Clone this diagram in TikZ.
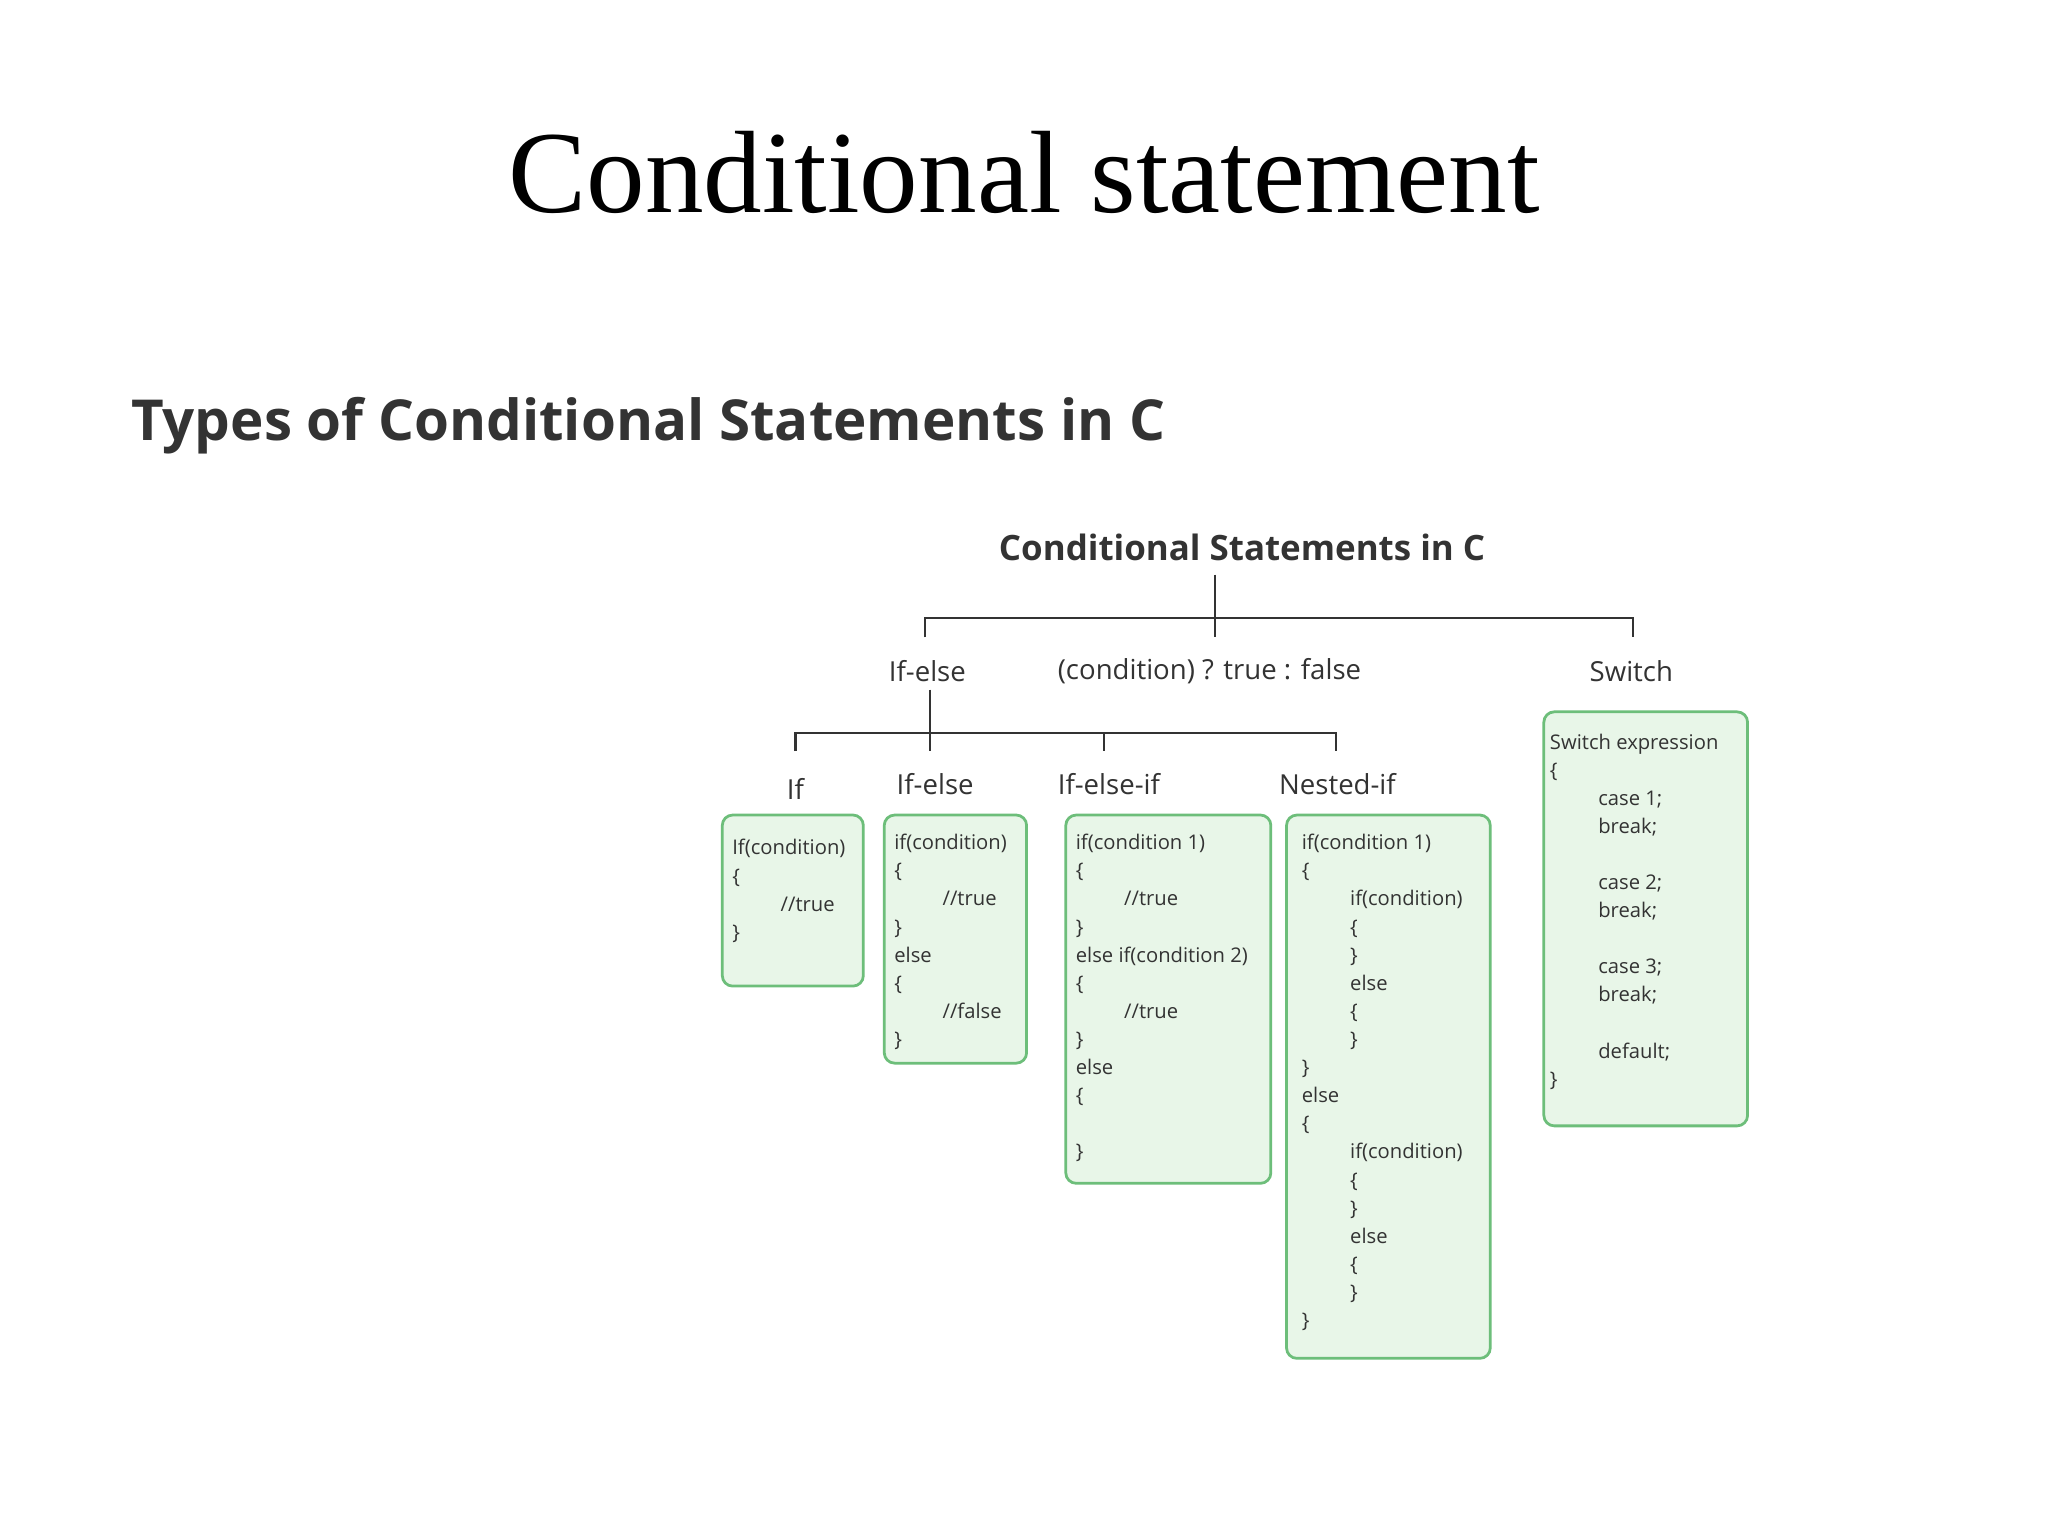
\documentclass[tikz,border=0pt]{standalone}
\usepackage{fontspec}
\setmainfont{Liberation Serif}
\newfontfamily\dsans{Open Sans}
\definecolor{bfill}{HTML}{E8F6E8}
\definecolor{bline}{HTML}{6DBE7A}
\definecolor{tgray}{HTML}{333333}
\begin{document}
\begin{tikzpicture}[x=0.01cm,y=-0.01cm,
  cbox/.style={draw=bline,fill=bfill,rounded corners=0.08cm,line width=0.6pt},
  code/.style={anchor=north west,inner sep=0,align=left,text=tgray,font=\dsans\fontsize{4.4}{6.12}\selectfont},
  lab/.style={text=tgray,font=\dsans\fontsize{6}{7}\selectfont},
  tree/.style={draw=tgray,line width=0.5pt}]
\useasboundingbox[fill=white] (0,0) rectangle (1568,1176);
\node (title) at (784,132) {\fontsize{25.5}{30}\selectfont Conditional statement};
\node[anchor=west,text=tgray,font=\dsans\fontsize{12.3}{14}\selectfont\bfseries] (sub) at (88,326) {Types of Conditional Statements in C};
\node[text=tgray,font=\dsans\fontsize{7.6}{9}\selectfont\bfseries] (root) at (951,419) {Conditional Statements in C};
% level 1
\node[lab] (ie) at (710,514) {If-else};
\node[lab] (tern) at (926,514) {(condition) ? true : false};
\node[lab] (sw) at (1249,514) {Switch};
\coordinate (r1) at (930,440);
\coordinate (j1) at (930,473);
\path[tree] (r1) -- (930,488) (708,488) -- (708,473) -- (1250,473) -- (1250,488);
% level 2
\node[lab] (if) at (609,604) {If};
\node[lab] (ie2) at (716,600) {If-else};
\node[lab] (ieif) at (849,600) {If-else-if};
\node[lab] (nif) at (1024,600) {Nested-if};
\path[tree] (712,528) -- (712,575) (609,575) -- (609,561) -- (1023,561) -- (1023,575) (845,561) -- (845,575);
% boxes
\draw[cbox] (553,624) rectangle (661,755);
\draw[cbox] (677,624) rectangle (786,814);
\draw[cbox] (816,624) rectangle (973,906);
\draw[cbox] (985,624) rectangle (1141,1040);
\draw[cbox] (1182,545) rectangle (1338,862);
\def\ind{\hspace*{0.37cm}}
\node[code] (cif) at (560,642) {If(condition)\\\{\\\ind//true\\\}};
\node[code] (cie) at (684,638) {if(condition)\\\{\\\ind//true\\\}\\else\\\{\\\ind//false\\\}};
\node[code] (cieif) at (823,638) {if(condition 1)\\\{\\\ind//true\\\}\\else if(condition 2)\\\{\\\ind//true\\\}\\else\\\{\\\mbox{}\\\}};
\node[code] (cnif) at (996,638) {if(condition 1)\\\{\\\ind if(condition)\\\ind\{\\\ind\}\\\ind else\\\ind\{\\\ind\}\\\}\\else\\\{\\\ind if(condition)\\\ind\{\\\ind\}\\\ind else\\\ind\{\\\ind\}\\\}};
\node[code] (csw) at (1186,561) {Switch expression\\\{\\\ind case 1;\\\ind break;\\\mbox{}\\\ind case 2;\\\ind break;\\\mbox{}\\\ind case 3;\\\ind break;\\\mbox{}\\\ind default;\\\}};
\end{tikzpicture}
\end{document}
